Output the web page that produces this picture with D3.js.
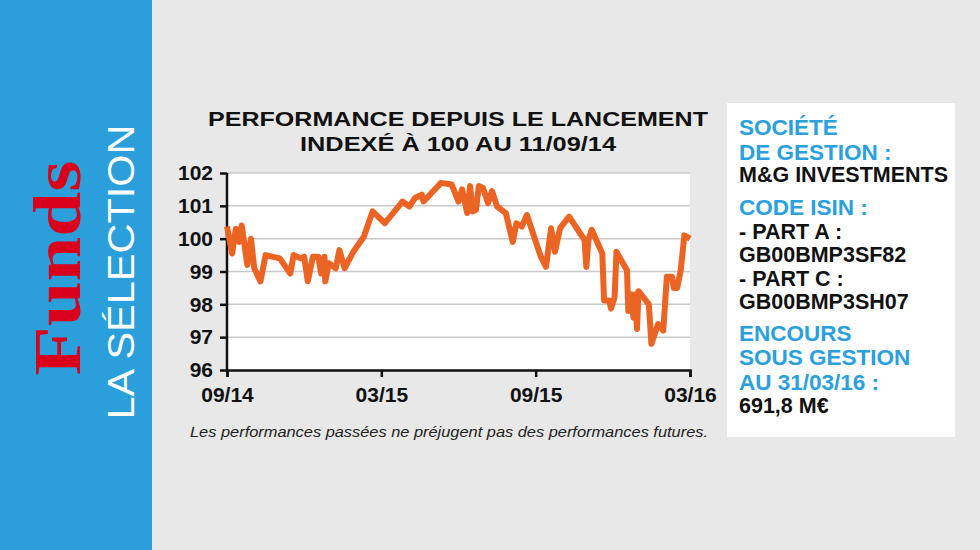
<!DOCTYPE html>
<html>
<head>
<meta charset="utf-8">
<script src="https://d3js.org/d3.v7.min.js"></script>
<style>body{margin:0;background:#e8e8e8}</style>
</head>
<body>
<div id="vis"></div>
<script>
// months since 09/14, index value (base 100)
let months = [0,0.2,0.34,0.48,0.57,0.79,0.93,1.06,1.3,1.5,2.05,2.46,2.59,2.86,3.0,3.14,3.34,3.55,3.66,3.79,3.82,3.96,4.23,4.37,4.57,4.91,5.32,5.66,6.14,6.82,7.09,7.3,7.57,7.64,8.32,8.73,9.0,9.14,9.34,9.45,9.55,9.68,9.79,9.95,10.15,10.3,10.5,10.84,11.11,11.25,11.46,11.66,12.2,12.4,12.6,12.75,12.95,13.3,13.9,13.97,14.05,14.18,14.59,14.66,14.86,14.93,15.07,15.14,15.55,15.6,15.74,15.8,15.87,15.94,16,16.4,16.5,16.76,16.96,17.1,17.3,17.37,17.5,17.64,17.78,18];
let values = [100.37,99.55,100.3,99.9,100.4,99.2,100,99.1,98.7,99.5,99.4,98.94,99.5,99.4,99.45,98.7,99.45,99.45,98.94,99.45,98.7,99.25,99.1,99.65,99.1,99.6,100.06,100.83,100.47,101.13,100.98,101.23,101.34,101.13,101.7,101.65,101.13,101.5,100.78,101.6,100.83,100.88,101.6,101.55,101.08,101.45,100.98,100.78,99.9,100.47,100.37,100.72,99.45,99.14,100.32,99.6,100.32,100.67,99.96,99.14,99.96,100.27,99.55,98.12,98.12,97.87,98.22,99.6,99.04,97.8,98.3,97.6,98.3,97.25,98.4,98.0,96.8,97.4,97.2,98.84,98.84,98.5,98.5,99.04,100.1,100.0];
let yTicks = [96,97,98,99,100,101,102];
let xTickPos = [0,6,12,18];
let xTickLabels = ["09/14","03/15","09/15","03/16"];
let panelLines = [
  ["SOCIÉTÉ","b"],["DE GESTION :","b"],["M&G INVESTMENTS","k"],
  ["CODE ISIN :","b"],["- PART A :","k"],["GB00BMP3SF82","k"],["- PART C :","k"],["GB00BMP3SH07","k"],
  ["ENCOURS","b"],["SOUS GESTION","b"],["AU 31/03/16 :","b"],["691,8 M€","k"]
];
let panelY = [128,153,175,208,232,255,279,302,334,358,383,406];

let svg = d3.select("#vis").append("svg").attr("width",980).attr("height",550)
  .style("font-family","'Liberation Sans', Arial, sans-serif");
svg.append("rect").attr("width",980).attr("height",550).attr("fill","#e8e8e8");

// left band
svg.append("rect").attr("width",152).attr("height",550).attr("fill","#2a9fda");
svg.append("text").attr("transform","translate(80,268) rotate(-90)")
  .attr("text-anchor","middle").attr("font-family","'Liberation Serif', serif")
  .attr("font-size",68).attr("font-weight","bold").attr("fill","#d9001b")
  .attr("textLength",215).attr("lengthAdjust","spacingAndGlyphs").text("Funds");
svg.append("text").attr("transform","translate(134,272) rotate(-90)")
  .attr("text-anchor","middle").attr("font-size",37).attr("font-weight",300)
  .attr("fill","#ffffff").attr("textLength",295).attr("lengthAdjust","spacingAndGlyphs").text("LA SÉLECTION");

// title
svg.append("text").attr("x",458).attr("y",126).attr("text-anchor","middle")
  .attr("font-size",21).attr("font-weight","bold").attr("fill","#111")
  .attr("textLength",500).attr("lengthAdjust","spacingAndGlyphs").text("PERFORMANCE DEPUIS LE LANCEMENT");
svg.append("text").attr("x",458).attr("y",151).attr("text-anchor","middle")
  .attr("font-size",21).attr("font-weight","bold").attr("fill","#111")
  .attr("textLength",316).attr("lengthAdjust","spacingAndGlyphs").text("INDEXÉ À 100 AU 11/09/14");

let x = d3.scaleLinear().domain([0,18]).range([227,690]);
let y = d3.scaleLinear().domain([96,102]).range([370,173]);

svg.append("rect").attr("x",227).attr("y",173).attr("width",463).attr("height",197).attr("fill","#fff");
svg.append("g").selectAll("line").data(yTicks.slice(1)).join("line")
  .attr("x1",227).attr("x2",690).attr("y1",d=>y(d)).attr("y2",d=>y(d))
  .attr("stroke","#c8c8cc").attr("stroke-width",1.5);

let ya = svg.append("g").attr("transform","translate(227,0)")
  .call(d3.axisLeft(y).tickValues(yTicks).tickSize(7).tickFormat(d3.format("d")));
ya.selectAll("text").attr("font-size",21).attr("font-weight","bold").attr("fill","#111").attr("dx",-4);
let xa = svg.append("g").attr("transform","translate(0,370)")
  .call(d3.axisBottom(x).tickValues(xTickPos).tickSize(7).tickFormat((d,i)=>xTickLabels[i]));
xa.selectAll("text").attr("font-size",21).attr("font-weight","bold").attr("fill","#111").attr("y",17);
svg.selectAll(".domain, .tick line").attr("stroke","#111").attr("stroke-width",2.5);
ya.select(".domain").attr("d","M0,173V370");

let line = d3.line().x((d,i)=>x(months[i])).y(d=>y(d));
svg.append("path").datum(values).attr("d",line).attr("fill","none")
  .attr("stroke","#ec6424").attr("stroke-width",6).attr("stroke-linejoin","round");

svg.append("text").attr("x",449).attr("y",437).attr("text-anchor","middle")
  .attr("font-size",14).attr("font-style","italic").attr("fill","#222")
  .attr("textLength",518).attr("lengthAdjust","spacingAndGlyphs")
  .text("Les performances passées ne préjugent pas des performances futures.");

// right panel
svg.append("rect").attr("x",727).attr("y",103).attr("width",228).attr("height",334).attr("fill","#fff");
svg.append("g").selectAll("text").data(panelLines).join("text")
  .attr("x",739).attr("y",(d,i)=>panelY[i]+7)
  .attr("font-size",d=>d[1]=="b"?22.5:21.5).attr("font-weight","bold")
  .attr("fill",d=>d[1]=="b"?"#2aa0dc":"#111").text(d=>d[0]);
</script>
</body>
</html>
